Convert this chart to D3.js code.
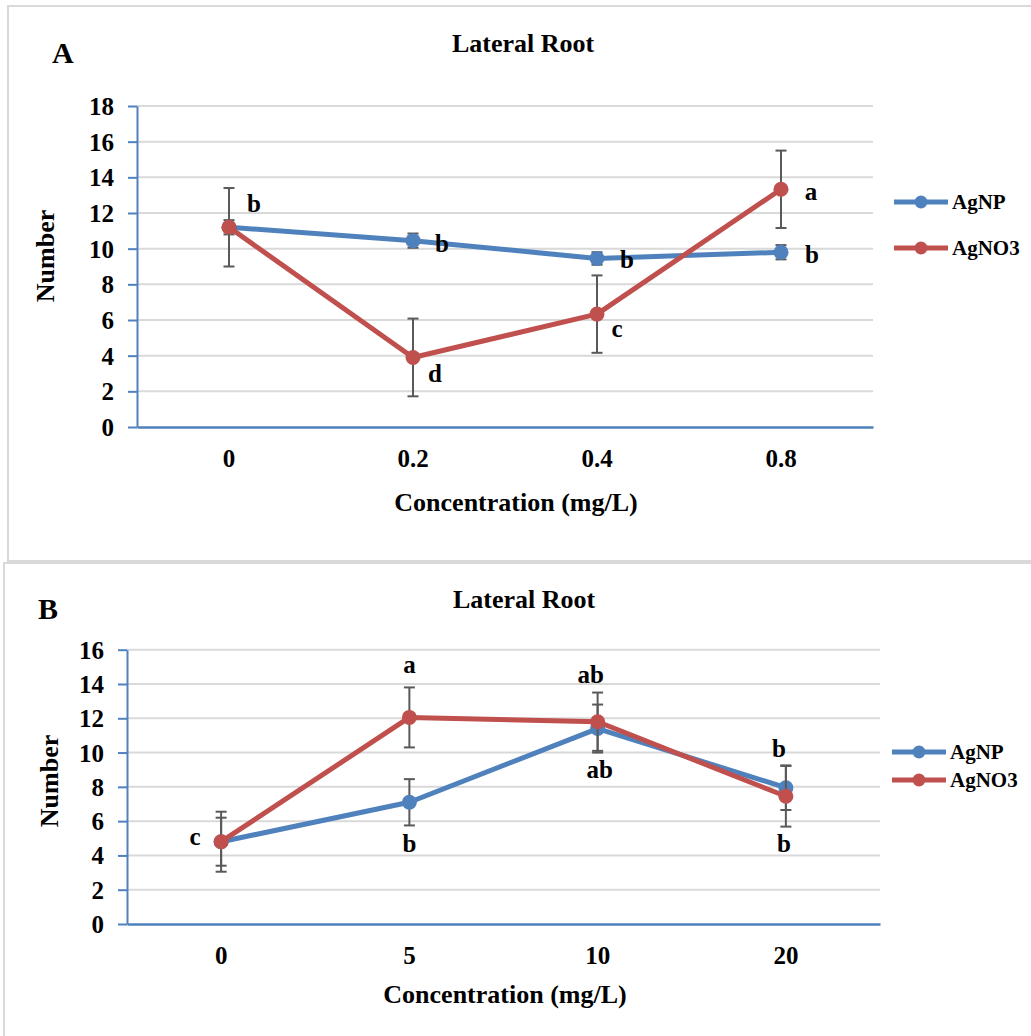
<!DOCTYPE html>
<html>
<head>
<meta charset="utf-8">
<script src="https://cdn.jsdelivr.net/npm/d3@7/dist/d3.min.js"></script>
<style>
  body { margin: 0; background: #fff; }
  svg text { font-family: "Liberation Serif", "Times New Roman", serif; font-weight: bold; fill: #000; }
</style>
</head>
<body>
<div id="chart"></div>
<script>
// panel A - AgNP / AgNO3, lateral root number
const concA = ['0', '0.2', '0.4', '0.8'];
const agnpA = [11.2, 10.45, 9.45, 9.8];
const agnpErrA = [0.4, 0.4, 0.35, 0.4];
const agno3A = [11.2, 3.9, 6.33, 13.33];
const agno3ErrA = [2.2, 2.18, 2.17, 2.17];
const agnpLettersA = ['b', 'b', 'b', 'b'];
const agno3LettersA = ['', 'd', 'c', 'a'];
const yTicksA = [0, 2, 4, 6, 8, 10, 12, 14, 16, 18];

// panel B
const concB = ['0', '5', '10', '20'];
const agnpB = [4.8, 7.1, 11.4, 7.95];
const agnpErrB = [1.4, 1.35, 1.4, 1.3];
const agno3B = [4.8, 12.05, 11.8, 7.45];
const agno3ErrB = [1.75, 1.75, 1.7, 1.77];
const agnpLettersB = ['c', 'b', 'ab', 'b'];
const agno3LettersB = ['', 'a', 'ab', 'b'];
const yTicksB = [0, 2, 4, 6, 8, 10, 12, 14, 16];

const seriesNames = ['AgNP', 'AgNO3'];
const colors = ['#4F81BD', '#C0504D'];

const W = 1031, H = 1036;
const svg = d3.select('#chart').append('svg')
    .attr('width', W)
    .attr('height', H);

function drawPanel(cfg) {
    const g = svg.append('g');

    // frame
    g.append('rect')
        .attr('x', cfg.frame[0]).attr('y', cfg.frame[1])
        .attr('width', cfg.frame[2]).attr('height', cfg.frame[3])
        .attr('fill', 'none')
        .attr('stroke', '#D9D9D9')
        .attr('stroke-width', 2);

    const x = d3.scaleBand()
        .domain(cfg.cats)
        .range([cfg.left, cfg.right]);
    const y = d3.scaleLinear()
        .domain([0, d3.max(cfg.yTicks)])
        .range([cfg.bottom, cfg.top]);
    const cx = d => x(d) + x.bandwidth() / 2;

    // gridlines
    g.append('g')
        .selectAll('line')
        .data(cfg.yTicks.filter(t => t > 0))
        .enter()
        .append('line')
        .attr('x1', cfg.left).attr('x2', cfg.right)
        .attr('y1', d => y(d)).attr('y2', d => y(d))
        .attr('stroke', '#D9D9D9')
        .attr('stroke-width', 2);

    // y axis
    const yAxis = g.append('g')
        .attr('transform', `translate(${cfg.left},0)`)
        .call(d3.axisLeft(y).tickValues(cfg.yTicks).tickSize(9).tickSizeOuter(0).tickPadding(14));
    yAxis.select('.domain').attr('stroke', '#4F81BD').attr('stroke-width', 2);
    yAxis.selectAll('.tick line').attr('stroke', '#4F81BD').attr('stroke-width', 2);
    yAxis.selectAll('.tick text').style('font-size', '25px').attr('dy', '0.34em');

    // x axis
    const xAxis = g.append('g')
        .attr('transform', `translate(0,${cfg.bottom})`)
        .call(d3.axisBottom(x).tickSize(0).tickPadding(22));
    xAxis.select('.domain').attr('stroke', '#4F81BD').attr('stroke-width', 2.5);
    xAxis.selectAll('.tick text').style('font-size', '25px');

    // titles
    g.append('text')
        .attr('x', cfg.titleX).attr('y', cfg.titleY)
        .attr('text-anchor', 'middle')
        .style('font-size', '26px')
        .text('Lateral Root');
    g.append('text')
        .attr('x', cfg.tagX).attr('y', cfg.tagY)
        .style('font-size', '30px')
        .text(cfg.tag);
    g.append('text')
        .attr('x', cfg.xTitleX).attr('y', cfg.xTitleY)
        .attr('text-anchor', 'middle')
        .style('font-size', '26px')
        .text('Concentration (mg/L)');
    g.append('text')
        .attr('transform', `translate(${cfg.yTitleX},${cfg.yTitleY}) rotate(-90)`)
        .attr('text-anchor', 'middle')
        .style('font-size', '26px')
        .text('Number');

    const line = d3.line()
        .x((d, i) => cx(cfg.cats[i]))
        .y(d => y(d));

    cfg.series.forEach((s, si) => {
        const color = colors[si];
        const sg = g.append('g');

        sg.append('path')
            .datum(s.values)
            .attr('d', line)
            .attr('fill', 'none')
            .attr('stroke', color)
            .attr('stroke-width', 5)
            .attr('stroke-linejoin', 'round');

        const eb = sg.append('g')
            .selectAll('g')
            .data(s.values)
            .enter()
            .append('g')
            .attr('stroke', '#595959')
            .attr('stroke-width', 2);
        eb.append('line')
            .attr('x1', (d, i) => cx(cfg.cats[i])).attr('x2', (d, i) => cx(cfg.cats[i]))
            .attr('y1', (d, i) => y(d + s.errs[i])).attr('y2', (d, i) => y(d - s.errs[i]));
        eb.append('line')
            .attr('x1', (d, i) => cx(cfg.cats[i]) - 5.5).attr('x2', (d, i) => cx(cfg.cats[i]) + 5.5)
            .attr('y1', (d, i) => y(d + s.errs[i])).attr('y2', (d, i) => y(d + s.errs[i]));
        eb.append('line')
            .attr('x1', (d, i) => cx(cfg.cats[i]) - 5.5).attr('x2', (d, i) => cx(cfg.cats[i]) + 5.5)
            .attr('y1', (d, i) => y(d - s.errs[i])).attr('y2', (d, i) => y(d - s.errs[i]));

        sg.append('g')
            .selectAll('circle')
            .data(s.values)
            .enter()
            .append('circle')
            .attr('cx', (d, i) => cx(cfg.cats[i]))
            .attr('cy', d => y(d))
            .attr('r', 7.5)
            .attr('fill', color);

        sg.append('g')
            .selectAll('text')
            .data(s.letters)
            .enter()
            .append('text')
            .attr('x', (d, i) => cx(cfg.cats[i]) + s.offsets[i][0])
            .attr('y', (d, i) => y(s.values[i]) + s.offsets[i][1])
            .attr('text-anchor', 'middle')
            .style('font-size', '25px')
            .text(d => d);

        // legend
        const ly = cfg.legendY[si];
        sg.append('line')
            .attr('x1', cfg.legendX).attr('x2', cfg.legendX + 54)
            .attr('y1', ly).attr('y2', ly)
            .attr('stroke', color)
            .attr('stroke-width', 5);
        sg.append('circle')
            .attr('cx', cfg.legendX + 27).attr('cy', ly)
            .attr('r', 6.5)
            .attr('fill', color);
        sg.append('text')
            .attr('x', cfg.legendX + 58).attr('y', ly + 7)
            .style('font-size', '21px')
            .text(seriesNames[si]);
    });
}

drawPanel({
    frame: [8, 6, 1040, 555],
    cats: concA,
    yTicks: yTicksA,
    left: 137, right: 873, top: 106, bottom: 427,
    titleX: 523, titleY: 52,
    tag: 'A', tagX: 52, tagY: 63,
    xTitleX: 516, xTitleY: 511,
    yTitleX: 54, yTitleY: 256,
    legendX: 894, legendY: [202, 248],
    series: [
        { values: agnpA, errs: agnpErrA, letters: agnpLettersA,
          offsets: [[25, -15], [29, 11], [30, 10], [31, 11]] },
        { values: agno3A, errs: agno3ErrA, letters: agno3LettersA,
          offsets: [[0, 0], [22, 25], [20, 23], [30, 11]] }
    ]
});

drawPanel({
    frame: [4, 563, 1040, 480],
    cats: concB,
    yTicks: yTicksB,
    left: 127, right: 880, top: 649.7, bottom: 924,
    titleX: 524, titleY: 608,
    tag: 'B', tagX: 38, tagY: 619,
    xTitleX: 505, xTitleY: 1003,
    yTitleX: 58, yTitleY: 781,
    legendX: 892, legendY: [752, 780],
    series: [
        { values: agnpB, errs: agnpErrB, letters: agnpLettersB,
          offsets: [[-26, 3], [0, 50], [2, 49], [-7, -31]] },
        { values: agno3B, errs: agno3ErrB, letters: agno3LettersB,
          offsets: [[0, 0], [0, -44], [-7, -39], [-2, 56]] }
    ]
});
</script>
</body>
</html>
